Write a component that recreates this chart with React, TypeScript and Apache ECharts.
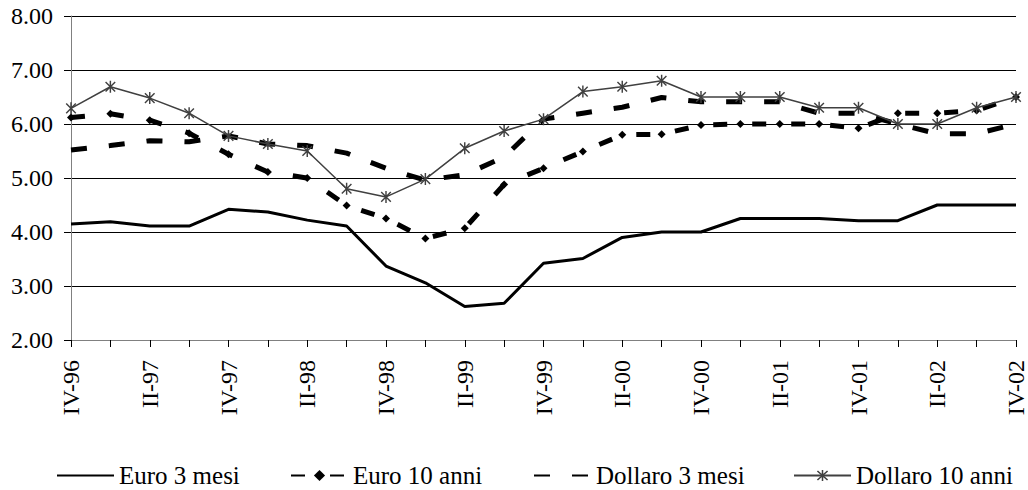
import React, { useEffect, useRef } from "react";
import * as echarts from "echarts";

const categories = [
  "IV-96", "I-97", "II-97", "III-97", "IV-97", "I-98", "II-98", "III-98", "IV-98",
  "I-99", "II-99", "III-99", "IV-99", "I-00", "II-00", "III-00", "IV-00",
  "I-01", "II-01", "III-01", "IV-01", "I-02", "II-02", "III-02", "IV-02",
];

const euro3Mesi = [4.15, 4.19, 4.11, 4.11, 4.42, 4.37, 4.22, 4.11, 3.37, 3.06, 2.62, 2.68, 3.42, 3.51, 3.9, 4.0, 4.0, 4.25, 4.25, 4.25, 4.21, 4.21, 4.5, 4.5, 4.5];
const euro10Anni = [6.12, 6.19, 6.07, 5.83, 5.44, 5.11, 5.0, 4.49, 4.25, 3.88, 4.07, 4.88, 5.18, 5.49, 5.8, 5.81, 5.98, 6.0, 6.0, 6.0, 5.92, 6.2, 6.2, 6.25, 6.5];
const dollaro3Mesi = [5.52, 5.6, 5.69, 5.67, 5.78, 5.63, 5.6, 5.46, 5.18, 4.96, 5.06, 5.39, 6.09, 6.2, 6.31, 6.49, 6.41, 6.41, 6.41, 6.2, 6.2, 6.0, 5.82, 5.82, 6.0];
const dollaro10Anni = [6.29, 6.69, 6.48, 6.2, 5.78, 5.63, 5.5, 4.8, 4.65, 4.98, 5.55, 5.87, 6.09, 6.6, 6.69, 6.8, 6.5, 6.5, 6.5, 6.3, 6.3, 6.0, 6.0, 6.3, 6.5];

const seriesNames = ["Euro 3 mesi", "Euro 10 anni", "Dollaro 3 mesi", "Dollaro 10 anni"];

const FONT = "'Liberation Serif', 'Times New Roman', serif";

const starPath =
  "path://M-0.6,-5 L0.6,-5 L0.6,5 L-0.6,5 Z " +
  "M-3.58,-4.42 L4.42,3.58 L3.58,4.42 L-4.42,-3.58 Z " +
  "M4.42,-3.58 L-3.58,4.42 L-4.42,3.58 L3.58,-4.42 Z";

export default function App() {
  const ref = useRef<HTMLDivElement>(null);

  useEffect(() => {
    if (!ref.current) return;
    const chart = echarts.init(ref.current, undefined, { renderer: "svg" });
    const legendLefts = [51, 285, 528, 788];
    const hideSymbol = [true, false, true, false];
    const option = {
      animation: false,
      backgroundColor: "#ffffff",
      textStyle: { fontFamily: FONT, color: "#000" },
      grid: { left: 71, right: 10, top: 16, bottom: 150 },
      legend: seriesNames.map((n, i) => ({
        data: [hideSymbol[i] ? { name: n, itemStyle: { opacity: 0 } } : { name: n }],
        left: legendLefts[i],
        top: 458,
        itemWidth: 57,
        itemHeight: 14,
        textStyle: { fontFamily: FONT, fontSize: 25, color: "#000" },
        selectedMode: false,
      })),
      xAxis: {
        type: "category",
        data: categories,
        boundaryGap: false,
        axisLine: { lineStyle: { color: "#808080", width: 1 } },
        axisTick: { show: true, length: 7, interval: 0, lineStyle: { color: "#000" } },
        axisLabel: {
          interval: 1,
          rotate: 90,
          margin: 20,
          fontFamily: FONT,
          fontSize: 24,
          color: "#000",
        },
        splitLine: { show: false },
      },
      yAxis: {
        type: "value",
        min: 2,
        max: 8,
        interval: 1,
        axisLine: { show: true, lineStyle: { color: "#808080", width: 1 } },
        axisTick: { show: true, length: 7, lineStyle: { color: "#000" } },
        axisLabel: {
          margin: 18,
          fontFamily: FONT,
          fontSize: 24,
          color: "#000",
          formatter: (v: number) => v.toFixed(2),
        },
        splitLine: { show: true, lineStyle: { color: "#000", width: 1 } },
      },
      series: [
        {
          name: seriesNames[0],
          type: "line",
          data: euro3Mesi,
          symbol: "none",
          lineStyle: { color: "#000", width: 3 },
          itemStyle: { color: "#000" },
          z: 2,
        },
        {
          name: seriesNames[1],
          type: "line",
          data: euro10Anni,
          symbol: "diamond",
          symbolSize: 8,
          showSymbol: true,
          lineStyle: { color: "#000", width: 5, type: [14, 25] },
          itemStyle: { color: "#000" },
          z: 3,
        },
        {
          name: seriesNames[2],
          type: "line",
          data: dollaro3Mesi,
          symbol: "none",
          lineStyle: { color: "#000", width: 5, type: [16, 22] },
          itemStyle: { color: "#000" },
          z: 3,
        },
        {
          name: seriesNames[3],
          type: "line",
          data: dollaro10Anni,
          symbol: starPath,
          symbolKeepAspect: true,
          symbolSize: 12,
          showSymbol: true,
          lineStyle: { color: "#404040", width: 1.5 },
          itemStyle: { color: "#404040" },
          z: 4,
        },
      ],
    };
    chart.setOption(option as any);
    return () => chart.dispose();
  }, []);

  return (
    <div
      ref={ref}
      style={{ position: "absolute", left: 0, top: 0, width: 1028, height: 490 }}
    />
  );
}
